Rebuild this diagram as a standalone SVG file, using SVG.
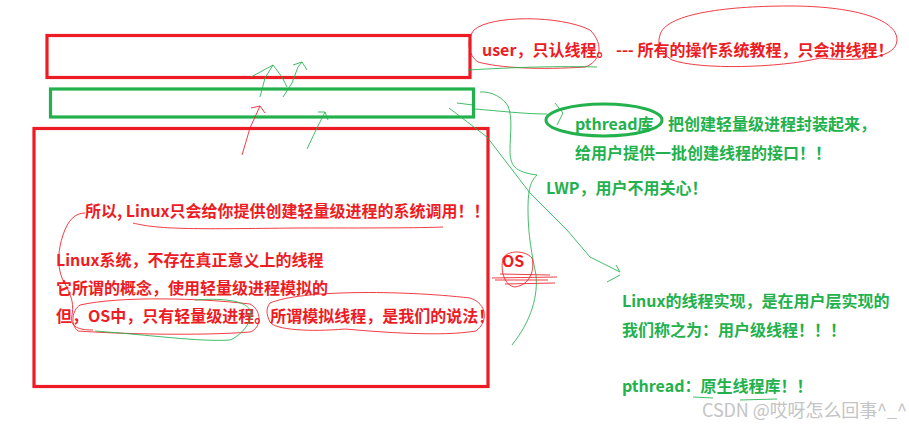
<svg xmlns="http://www.w3.org/2000/svg" width="909" height="426" viewBox="0 0 909 426">
<style>
.t{font-family:"Noto Sans CJK SC","Microsoft YaHei",sans-serif;font-weight:bold;font-size:16px}
.r{fill:#ed1c24}
.g{fill:#22b14c}
.box{fill:none;stroke-width:3.2}
.rb{stroke:#ed1c24}
.gb{stroke:#22b14c}
.fr{fill:none;stroke:#ed1c24;stroke-width:1;opacity:0.85}
.fg{fill:none;stroke:#22b14c;stroke-width:1;opacity:0.85}
.wm{font-family:"Noto Sans CJK SC","Microsoft YaHei",sans-serif;font-size:18px;fill:#c4c4c4}
</style>
<rect width="909" height="426" fill="#fff"/>

<g id="box-user"><rect class="box rb" x="47" y="35.5" width="423" height="42"/></g>
<g id="box-lib"><rect class="box gb" x="50.5" y="89" width="423" height="28"/></g>
<g id="box-os"><rect class="box rb" x="34" y="128.5" width="454" height="258"/></g>

<g id="note-user">
<text class="t r" x="482" y="56">user，只认线程。 --- 所有的操作系统教程，只会讲线程！</text>
</g>
<g id="note-pthread">
<ellipse cx="604" cy="120" rx="58" ry="16" fill="none" stroke="#22b14c" stroke-width="3"/>
<text class="t g" x="575" y="130">pthread库</text>
<text class="t g" x="668" y="130">把创建轻量级进程封装起来，</text>
<text class="t g" x="575" y="159">给用户提供一批创建线程的接口！！</text>
</g>
<g id="note-lwp"><text class="t g" x="546" y="194">LWP，用户不用关心！</text></g>
<g id="note-syscall"><text class="t r" x="85" y="217">所以, Linux只会给你提供创建轻量级进程的系统调用！！</text></g>
<g id="note-linux">
<text class="t r" x="56" y="266">Linux系统，不存在真正意义上的线程</text>
<text class="t r" x="56" y="294">它所谓的概念，使用轻量级进程模拟的</text>
<text class="t r" x="56" y="322">但，OS中，只有轻量级进程。所谓模拟线程，是我们的说法！</text>
</g>
<g id="note-os"><text class="t r" x="502" y="267">OS</text></g>
<g id="note-impl">
<text class="t g" x="622" y="307">Linux的线程实现，是在用户层实现的</text>
<text class="t g" x="622" y="336">我们称之为：用户级线程！！！</text>
<text class="t g" x="622" y="392">pthread：原生线程库！！</text>
</g>

<g id="connectors">
<!-- arrows inside boxes -->
<path class="fg" d="M260,97 L265,78 L273,65 M251,77 L273,65 L282,77 L287,87"/>
<path class="fg" d="M283,97 L292,83 L298,67 L302,62 M293,65 L302,62 L307,70"/>
<path class="fr" d="M242,155 L250,128 L260,106 M251,108 L260,106 L265,113"/>
<path class="fg" d="M307,149 L316,130 L325,112 M318,112 L325,112 L328,120"/>
<!-- top circles -->
<path class="fr" d="M474,30 C490,15 560,15 590,30 C605,45 600,62 585,67 C540,70 500,68 478,62 C468,55 466,40 474,30"/>
<path class="fr" d="M660,35 C665,15 720,6 790,6 C850,6 897,18 897,40 C897,58 860,62 820,58 C780,68 700,70 672,60 C660,52 657,45 660,35"/>
<path class="fg" d="M468,70 C520,67 560,66 597,67"/>
<!-- green box to pthread -->
<path class="fg" d="M475,109 C500,111 525,114 547,114"/>
<path class="fg" d="M457,103 L473,105"/>
<path class="fg" d="M555,103 L563,113 L557,125"/>
<!-- long curve down -->
<path class="fg" d="M480,92 C492,91 503,98 508,106 C513,118 510,135 510,150 C510,165 514,172 537,175 C530,182 528,190 528,210 C528,235 532,255 536,275 C538,295 532,320 512,345"/>
<!-- diagonal to linux impl -->
<path class="fg" d="M449,108 L487,137 L530,193 L567,230 L590,257 L620,272 L616,265 M620,275 L607,282"/>
<!-- OS scribble -->
<path class="fr" d="M503,258 C508,250 525,250 532,258 C535,270 530,285 515,287 C505,286 500,272 503,258"/>
<path class="fr" d="M492,278 L557,277 M495,280 L548,280 M505,284 L555,283 M500,274 L550,275"/>
<!-- left side red curve -->
<path class="fr" d="M85,213 C75,213 68,220 63,235 C58,250 57,265 62,278 C68,290 75,300 72,315 C70,325 75,330 93,330"/>
<path class="fr" d="M133,223 C160,230 200,229 297,228 C370,228 420,228 443,227"/>
<!-- ellipses bottom-left -->
<path class="fr" d="M80,305 C120,296 200,298 250,304 C262,310 262,328 250,332 C200,336 120,334 78,331 C70,325 72,310 80,305"/>
<path class="fr" d="M270,303 C300,290 400,290 470,298 C488,304 488,322 476,331 C440,337 380,332 345,329 C310,332 275,330 270,322 C266,314 266,308 270,303"/>
<path class="fg" d="M195,300 C220,298 245,300 250,310 C254,322 240,336 230,340 C200,342 150,335 95,331"/>
<!-- underline pthread -->
<path class="fg" d="M693,397 L713,398 M740,400 L777,399"/>
</g>

<g id="watermark"><text class="wm" x="702" y="417" textLength="205">CSDN @哎呀怎么回事^_^</text></g>
</svg>
